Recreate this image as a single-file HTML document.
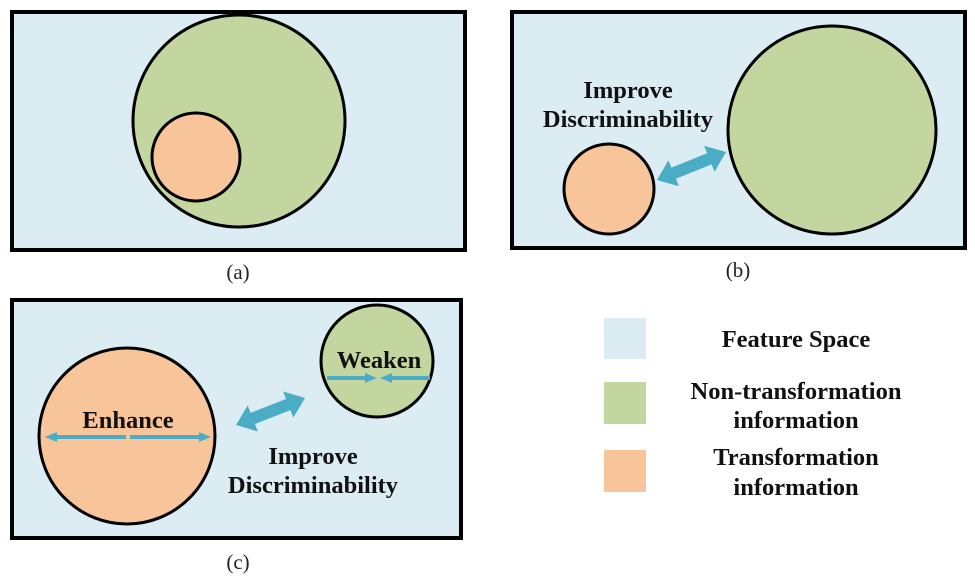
<!DOCTYPE html>
<html><head><meta charset="utf-8"><style>
html,body{margin:0;padding:0;background:#fff;}
svg{display:block;}
text{font-family:"Liberation Serif",serif;}
.b{font-weight:bold;font-size:24.5px;fill:#111;}
.cap{font-size:21px;fill:#222;}
</style></head><body>
<svg width="975" height="579" viewBox="0 0 975 579" xmlns="http://www.w3.org/2000/svg">
<g>
<rect x="12" y="12" width="453" height="238" fill="#DBEDF3" stroke="#000" stroke-width="4"/>
<circle cx="239" cy="121" r="106" fill="#C4D6A0" stroke="#000" stroke-width="3"/>
<circle cx="196" cy="157" r="44" fill="#F8C49A" stroke="#000" stroke-width="3"/>
</g>
<text class="cap" x="238" y="279" text-anchor="middle">(a)</text>

<g>
<rect x="512" y="12" width="453" height="236" fill="#DBEDF3" stroke="#000" stroke-width="4"/>
<circle cx="832" cy="130" r="104" fill="#C4D6A0" stroke="#000" stroke-width="3"/>
<circle cx="609" cy="189" r="45" fill="#F8C49A" stroke="#000" stroke-width="3"/>
<g id="arrB"></g>
<text class="b" x="628" y="98" text-anchor="middle">Improve</text>
<text class="b" x="628" y="127" text-anchor="middle">Discriminability</text>
</g>
<text class="cap" x="738" y="277" text-anchor="middle">(b)</text>

<g>
<rect x="12" y="300" width="449" height="238" fill="#DBEDF3" stroke="#000" stroke-width="4"/>
<circle cx="127" cy="436" r="88" fill="#F8C49A" stroke="#000" stroke-width="3"/>
<circle cx="377" cy="361" r="56" fill="#C4D6A0" stroke="#000" stroke-width="3"/>
<text class="b" x="128" y="428" text-anchor="middle">Enhance</text>
<text class="b" x="379" y="368" text-anchor="middle">Weaken</text>
<g id="arrC"></g>
<g id="thin"></g>
<text class="b" x="313" y="464" text-anchor="middle">Improve</text>
<text class="b" x="313" y="493" text-anchor="middle">Discriminability</text>
</g>
<text class="cap" x="238" y="569" text-anchor="middle">(c)</text>

<g>
<rect x="604" y="318" width="42" height="41" fill="#DBEDF3"/>
<rect x="604" y="382" width="42" height="42" fill="#C4D6A0"/>
<rect x="604" y="450" width="42" height="42" fill="#F8C49A"/>
<text class="b" x="796" y="347" text-anchor="middle">Feature Space</text>
<text class="b" x="796" y="399" text-anchor="middle">Non-transformation</text>
<text class="b" x="796" y="428" text-anchor="middle">information</text>
<text class="b" x="796" y="465" text-anchor="middle">Transformation</text>
<text class="b" x="796" y="495" text-anchor="middle">information</text>
</g>
</svg>
<script>
const NS="http://www.w3.org/2000/svg";
function dbl(g,x1,y1,x2,y2,w,hw,hl,col){
  const dx=x2-x1,dy=y2-y1,L=Math.hypot(dx,dy),ux=dx/L,uy=dy/L,nx=-uy,ny=ux;
  const P=(a,b)=>[x1+ux*a+nx*b,y1+uy*a+ny*b];
  const pts=[P(0,0),P(hl,hw),P(hl,w/2),P(L-hl,w/2),P(L-hl,hw),P(L,0),P(L-hl,-hw),P(L-hl,-w/2),P(hl,-w/2),P(hl,-hw)];
  const p=document.createElementNS(NS,"polygon");
  p.setAttribute("points",pts.map(q=>q.join(",")).join(" "));
  p.setAttribute("fill",col);
  
  
  g.appendChild(p);
}
function single(g,x1,x2,y){
  const d=x2>x1?1:-1;
  const l=document.createElementNS(NS,"polygon");
  const hl=12;
  l.setAttribute("points",[[x1,y-2],[x2-d*hl,y-2],[x2-d*hl,y-5],[x2,y],[x2-d*hl,y+5],[x2-d*hl,y+2],[x1,y+2]].map(q=>q.join(",")).join(" "));
  l.setAttribute("fill","#4BACC6");
  
  
  g.appendChild(l);
}
dbl(document.getElementById("arrB"),657,180,726,152,12,14,18,"#4BACC6");
dbl(document.getElementById("arrC"),236,425,305,398,12,14,18,"#4BACC6");
const t=document.getElementById("thin");
single(t,126,45,437);single(t,130,211,437);
single(t,327,377,378);single(t,430,380,378);
</script>
</body></html>
